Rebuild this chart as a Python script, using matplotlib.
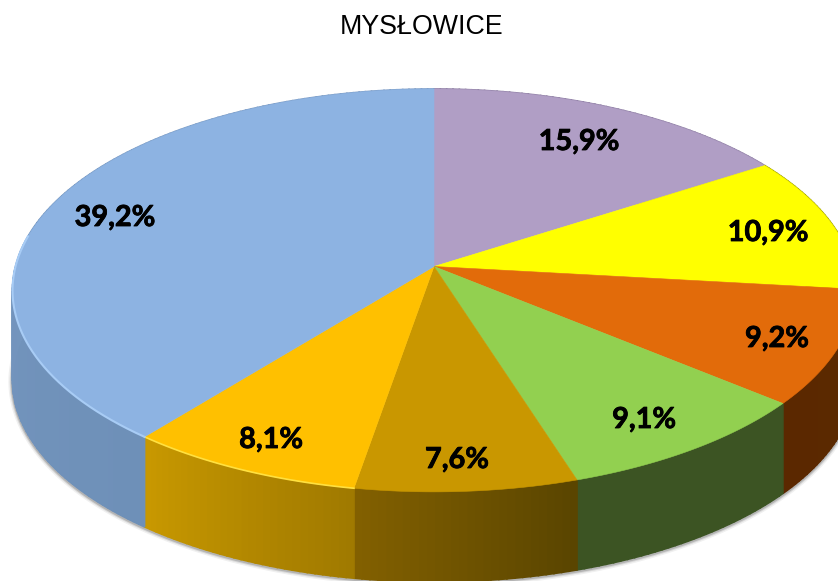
import numpy as np
import matplotlib
matplotlib.use("Agg")
import matplotlib.pyplot as plt
import matplotlib.patheffects as pe
from matplotlib.colors import to_rgb

# values go clockwise from 12 o'clock
title = "MYSŁOWICE"
values = [15.9, 10.9, 9.2, 9.1, 7.6, 8.1, 39.2]
labels = ["15,9%", "10,9%", "9,2%", "9,1%", "7,6%", "8,1%", "39,2%"]
top_colors = ["#B09EC5", "#FFFF00", "#E26B0A", "#92D050", "#C99700", "#FFC000", "#8DB3E2"]
side_start = ["#8A7AA0", "#999900", "#5B2A00", "#3C5423", "#826000", "#C89800", "#7C9CC6"]
side_end = ["#8A7AA0", "#999900", "#5B2800", "#3C5423", "#5A4500", "#A07A00", "#6E90B8"]
label_x = [579, 768, 777, 644, 457, 271, 115]
label_y = [142, 233, 339, 420, 460, 440, 218]

# pie geometry in pixels, with a little perspective
cx, cy = 434, 266.5
rx, ry = 418.5, 198.6
persp = 0.1188
depth = 90


def project(theta):
    u, v = np.sin(theta), np.cos(theta)
    w = 1 + persp * v
    return cx + rx * u / w, cy - ry * v / w


fig = plt.figure(figsize=(8.38, 5.81), dpi=100)
ax = fig.add_axes([0, 0, 1, 1])
ax.set_xlim(0, 838)
ax.set_ylim(581, 0)
ax.axis("off")

edges = np.radians(np.concatenate([[0], np.cumsum(values)]) * 3.6)

# soft shadow under the outer wall
t = np.linspace(np.pi / 2, 3 * np.pi / 2 + 0.2, 300)
sx, sy = project(t)
for lw, a in [(6, 0.06), (4, 0.1), (2.5, 0.16)]:
    ax.plot(sx, sy + depth + 1, color="black", lw=lw, alpha=a, zorder=1)

# side wall, cut in thin strips so the colour can run along the slice
for i in range(len(values)):
    a0, a1 = edges[i], edges[i + 1]
    n = max(int((a1 - a0) * 60), 2)
    tt = np.linspace(a0, a1, n + 1)
    c0, c1 = np.array(to_rgb(side_start[i])), np.array(to_rgb(side_end[i]))
    for j in range(n):
        ts = np.linspace(tt[j], tt[j + 1], 4)
        x, y = project(ts)
        # x runs the other way on the front right, colour is by screen x
        f = j / max(n - 1, 1)
        if i >= 4:
            f = 1 - f
        col = c0 + (c1 - c0) * f
        ax.fill(np.r_[x, x[::-1]], np.r_[y, y[::-1] + depth], color=col, lw=1.2, zorder=2)

# top face
for i in range(len(values)):
    ts = np.linspace(edges[i], edges[i + 1], 200)
    x, y = project(ts)
    ax.fill(np.r_[cx, x], np.r_[cy, y], color=top_colors[i], lw=0.4, zorder=3)

# thin light rim on the front left slices
ts = np.linspace(edges[5], edges[6], 100)
x, y = project(ts)
ax.plot(x, y, color="#FFE040", lw=1.2, zorder=4)
ts = np.linspace(edges[6], edges[6] + np.radians(60), 200)
x, y = project(ts)
ax.plot(x, y, color="#A8CCF5", lw=1.5, zorder=4)

for lx, ly, lab in zip(label_x, label_y, labels):
    ax.text(lx, ly, lab, ha="center", va="center", fontsize=20.8, fontweight="bold",
            family="Lato", color="black", zorder=5,
            path_effects=[pe.withStroke(linewidth=0.6, foreground="black")])

ax.text(422, 27, title, ha="center", va="center", fontsize=19.3,
        family="Liberation Sans", color="black")

fig.savefig("out.png", dpi=100)
